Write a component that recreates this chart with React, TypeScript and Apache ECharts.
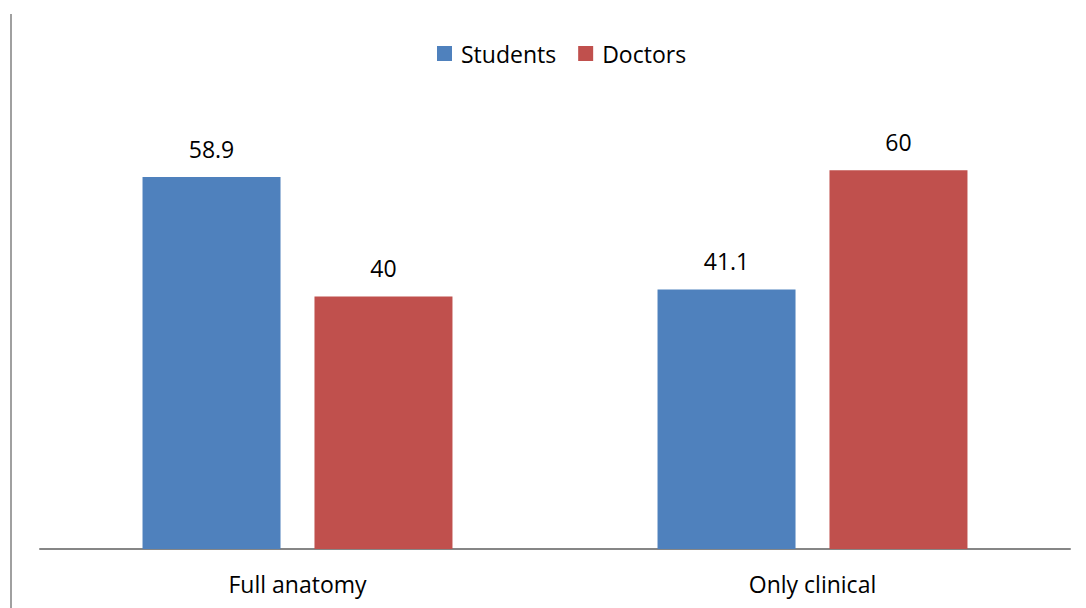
import React, { useEffect, useRef } from "react";
import * as echarts from "echarts";

const categories = ["Full anatomy", "Only clinical"];
const students = [58.9, 41.1];
const doctors = [40, 60];
const seriesNames = ["Students", "Doctors"];

export default function App() {
  const ref = useRef<HTMLDivElement>(null);
  useEffect(() => {
    const chart = echarts.init(ref.current!, null, { renderer: "svg" });
    const font = "'Open Sans', sans-serif";
    const label = {
      show: true,
      position: "top" as const,
      distance: 17,
      color: "#000",
      fontSize: 23,
      fontFamily: font,
    };
    chart.setOption({
      animation: false,
      backgroundColor: "#fff",
      legend: {
        data: seriesNames,
        top: 37,
        left: 432,
        itemWidth: 15,
        itemHeight: 15,
        itemGap: 22,
        icon: "rect",
        textStyle: { fontSize: 23, fontFamily: font, color: "#000", padding: [0, 0, 0, 4] },
      },
      grid: { left: 40, right: 16, top: 107, bottom: 59 },
      xAxis: {
        type: "category",
        data: categories,
        axisLine: { lineStyle: { color: "#868686", width: 2 } },
        axisTick: { show: false },
        axisLabel: { fontSize: 23, fontFamily: font, color: "#000", margin: 23 },
      },
      yAxis: {
        type: "value",
        min: 0,
        max: 70,
        show: false,
        splitLine: { show: false },
      },
      series: [
        {
          name: seriesNames[0],
          type: "bar",
          data: students,
          barWidth: 138,
          barGap: "24.6%",
          itemStyle: { color: "#4f81bd" },
          label,
        },
        {
          name: seriesNames[1],
          type: "bar",
          data: doctors,
          barWidth: 138,
          barGap: "24.6%",
          itemStyle: { color: "#c0504d" },
          label,
        },
      ],
      graphic: [
        {
          type: "line",
          shape: { x1: 11, y1: 14, x2: 11, y2: 608 },
          style: { stroke: "#a0a0a0", lineWidth: 2 },
        },
      ],
    });
    return () => chart.dispose();
  }, []);
  return <div ref={ref} style={{ width: 1086, height: 608, position: "fixed", left: 0, top: 0 }} />;
}
